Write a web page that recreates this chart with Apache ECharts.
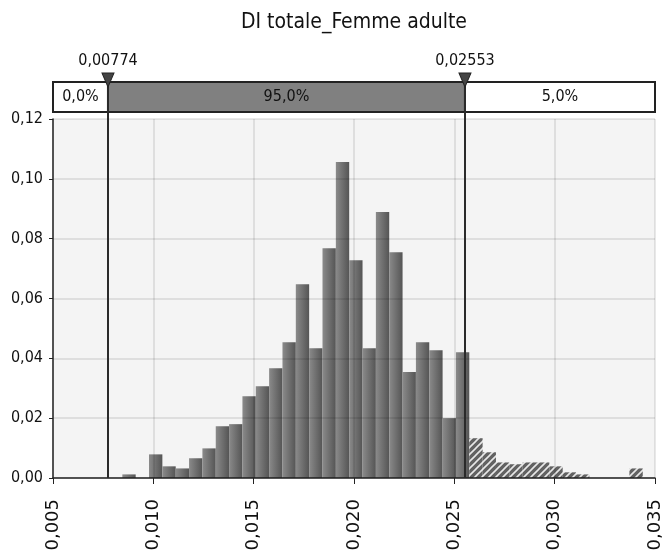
<!DOCTYPE html>
<html>
<head>
<meta charset="utf-8">
<title>DI totale_Femme adulte</title>
<script src="https://cdn.jsdelivr.net/npm/echarts@6/dist/echarts.min.js"></script>
<style>
  html, body { margin: 0; padding: 0; background: #fff; }
  #chart { width: 664px; height: 552px; }
</style>
</head>
<body>
<div id="chart"></div>
<script>
// bins: left edge of each class, class width, relative frequency
const binStart = [
    0.008455, 0.009120, 0.009785, 0.010450, 0.011115, 0.011780, 0.012445, 0.013110,
    0.013775, 0.014440, 0.015105, 0.015770, 0.016435, 0.017100, 0.017765, 0.018430,
    0.019095, 0.019760, 0.020425, 0.021090, 0.021755, 0.022420, 0.023085, 0.023750,
    0.024415, 0.025080, 0.025745, 0.026410, 0.027075, 0.027740, 0.028405, 0.029070,
    0.029735, 0.030400, 0.031065, 0.031730, 0.032395, 0.033060, 0.033725
]
const binWidth = 0.000665
const freq = [
    0.0012, 0.0000, 0.0079, 0.0039, 0.0032, 0.0066, 0.0099, 0.0173,
    0.0180, 0.0273, 0.0307, 0.0367, 0.0454, 0.0648, 0.0434, 0.0768,
    0.1056, 0.0728, 0.0434, 0.0889, 0.0755, 0.0354, 0.0454, 0.0427,
    0.0200, 0.0420, 0.0133, 0.0086, 0.0052, 0.0046, 0.0052, 0.0052,
    0.0039, 0.0019, 0.0012, 0.0000, 0.0000, 0.0000, 0.0032
]
const xMin = 0.005
const xMax = 0.035
const cutoffs = [0.00774, 0.02553]
const cutoffLabels = ['0,00774', '0,02553']
const regionLabels = ['0,0%', '95,0%', '5,0%']

const condensed = "'DejaVu Sans Condensed', 'Liberation Sans Narrow', sans-serif"

// hachures pour la queue droite
const tile = document.createElement('canvas')
tile.width = 7
tile.height = 7
const ctx = tile.getContext('2d')
ctx.fillStyle = '#626262'
ctx.fillRect(0, 0, 7, 7)
ctx.strokeStyle = 'rgba(255,255,255,0.85)'
ctx.lineWidth = 1.6
ctx.beginPath()
ctx.moveTo(-1, 8); ctx.lineTo(8, -1)
ctx.moveTo(-1, 1); ctx.lineTo(1, -1)
ctx.moveTo(6, 8); ctx.lineTo(8, 6)
ctx.stroke()
const hatch = { image: tile, repeat: 'repeat' }

const barFill = new echarts.graphic.LinearGradient(0, 0, 1, 0, [
    { offset: 0, color: '#8a8a8a' },
    { offset: 1, color: '#555555' }
])

const bounds = [xMin, cutoffs[0], cutoffs[1], xMax]
const areaColors = ['#ffffff', '#808080', '#ffffff']
const areas = regionLabels.map((name, i) => [
    { name: name, xAxis: bounds[i], yAxis: 0, itemStyle: { color: areaColors[i] } },
    { xAxis: bounds[i + 1], yAxis: 1 }
])

const chart = echarts.init(document.getElementById('chart'))

const option = {
    animation: false,
    backgroundColor: '#fff',
    title: {
        text: 'DI totale_Femme adulte',
        left: 349,
        textAlign: 'center',
        top: 7,
        textStyle: { fontFamily: condensed, fontSize: 21, fontWeight: 'normal', color: '#111' }
    },
    grid: [
        {
            left: 53, right: 9, top: 119, bottom: 74,
            outerBoundsMode: 'none', containLabel: false,
            show: true, backgroundColor: '#f4f4f4', borderWidth: 0
        },
        {
            left: 53, right: 9, top: 82, height: 37.5,
            outerBoundsMode: 'none', containLabel: false,
            show: false
        }
    ],
    xAxis: [
        {
            type: 'value', gridIndex: 0, min: xMin, max: xMax, interval: 0.005, z: 3,
            axisLine: { show: true, onZero: false, lineStyle: { color: '#222', width: 1.5 } },
            axisTick: { show: true, length: 6, lineStyle: { color: '#222' } },
            splitLine: { show: true, lineStyle: { color: 'rgba(0,0,0,0.09)', width: 2 } },
            axisLabel: {
                rotate: 90, margin: 21, color: '#111',
                fontFamily: "'DejaVu Sans', sans-serif", fontSize: 18,
                formatter: v => v.toFixed(3).replace('.', ',')
            }
        },
        { type: 'value', gridIndex: 1, min: xMin, max: xMax, show: false }
    ],
    yAxis: [
        {
            type: 'value', gridIndex: 0, min: 0, max: 0.12, interval: 0.02, z: 3,
            axisLine: { show: true, lineStyle: { color: '#222', width: 1.5 } },
            axisTick: { show: true, length: 4, lineStyle: { color: '#222' } },
            splitLine: { show: true, lineStyle: { color: 'rgba(0,0,0,0.09)', width: 2 } },
            axisLabel: {
                margin: 10, color: '#111', fontFamily: condensed, fontSize: 16,
                formatter: v => v.toFixed(2).replace('.', ',')
            }
        },
        { type: 'value', gridIndex: 1, min: -0.25, max: 1, show: false }
    ],
    series: [
        {
            type: 'custom',
            xAxisIndex: 0,
            yAxisIndex: 0,
            data: binStart.map((x, i) => [x, freq[i]]),
            renderItem: (params, api) => {
                const x0 = api.value(0)
                const top = api.coord([x0, api.value(1)])
                const bottom = api.coord([x0 + binWidth, 0])
                return {
                    type: 'rect',
                    shape: { x: top[0], y: top[1], width: bottom[0] - top[0], height: bottom[1] - top[1] },
                    style: { fill: x0 >= cutoffs[1] ? hatch : barFill }
                }
            }
        },
        {
            type: 'line',
            xAxisIndex: 0,
            yAxisIndex: 0,
            data: [],
            z: 5,
            markLine: {
                silent: true,
                symbol: 'none',
                precision: 5,
                label: { show: false },
                lineStyle: { color: '#2a2a2a', width: 2, type: 'solid' },
                data: cutoffs.map(c => [{ coord: [c, 0] }, { coord: [c, 0.12] }])
            }
        },
        {
            type: 'line',
            xAxisIndex: 1,
            yAxisIndex: 1,
            data: [],
            z: 5,
            markArea: {
                silent: true,
                itemStyle: { borderColor: '#222', borderWidth: 2 },
                label: {
                    show: true, position: 'inside', color: '#111',
                    fontFamily: condensed, fontSize: 16
                },
                data: areas
            },
            markLine: {
                silent: true,
                symbol: 'none',
                precision: 5,
                label: { show: false },
                lineStyle: { color: '#2a2a2a', width: 2, type: 'solid' },
                data: cutoffs.map(c => [{ coord: [c, 1] }, { coord: [c, -0.25] }])
            },
            markPoint: {
                silent: true,
                symbol: 'path://M0,0L10,0L5,10Z',
                symbolSize: [12, 14],
                symbolOffset: [0, -2],
                itemStyle: { color: '#444', borderColor: '#222', borderWidth: 1 },
                label: {
                    show: true, position: 'top', distance: 4, color: '#111',
                    fontFamily: condensed, fontSize: 16,
                    formatter: p => p.name
                },
                data: cutoffs.map((c, i) => ({ name: cutoffLabels[i], coord: [c, 1] }))
            }
        }
    ]
}

chart.setOption(option)
</script>
</body>
</html>
